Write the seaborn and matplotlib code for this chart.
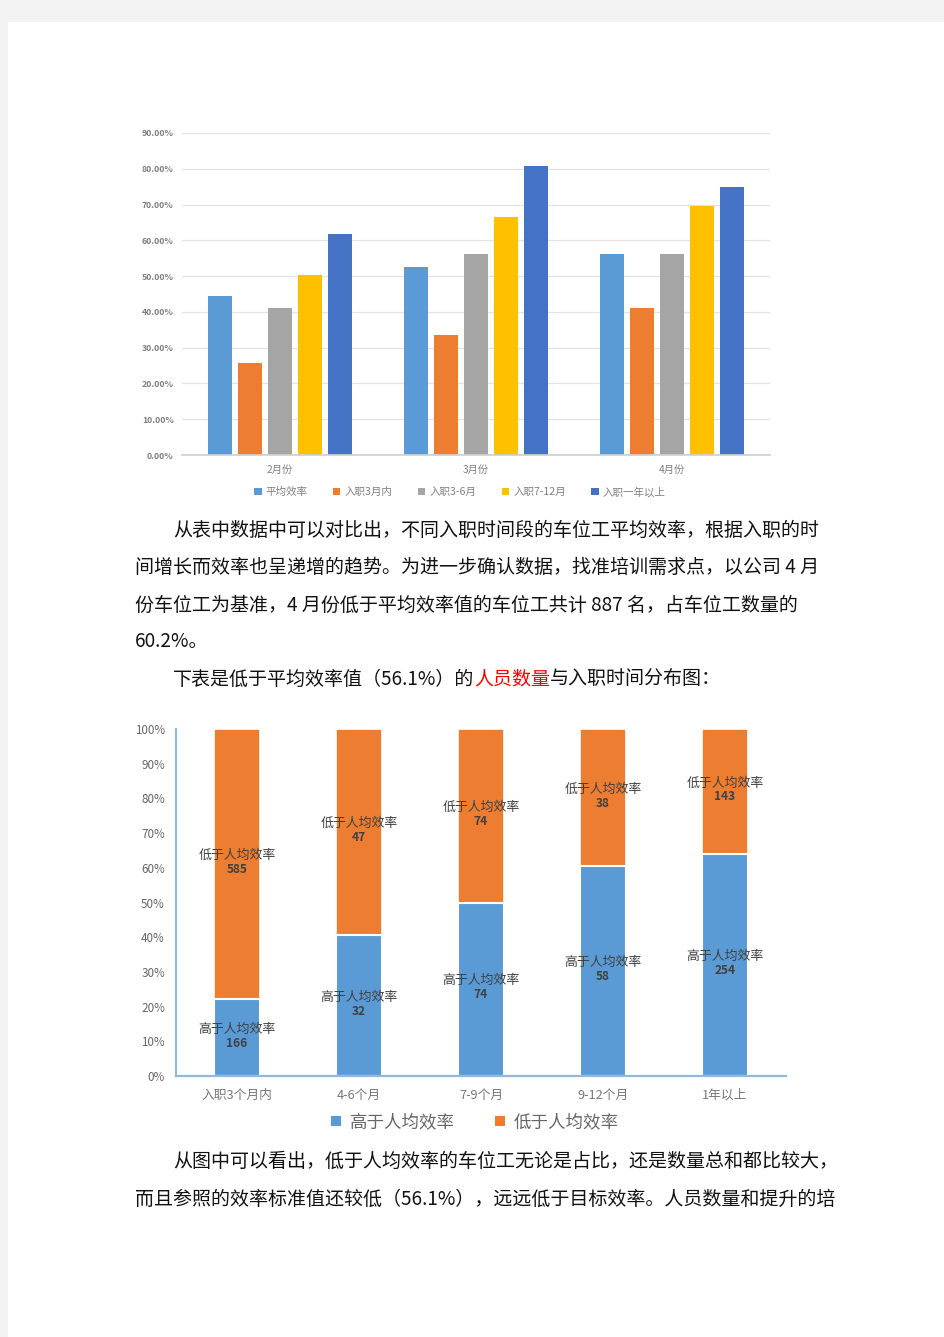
import matplotlib
matplotlib.use("Agg")
import matplotlib.pyplot as plt
import seaborn as sns
import pandas as pd
import numpy as np
from matplotlib.patches import Rectangle, Patch
from matplotlib.ticker import FuncFormatter

# ---------------- data ----------------
months = ["2月份", "3月份", "4月份"]
groups = ["平均效率", "入职3月内", "入职3-6月", "入职7-12月", "入职一年以上"]
eff_avg = [44.4, 52.5, 56.1]
eff_3m = [25.8, 33.6, 41.2]
eff_3_6 = [41.2, 56.3, 56.3]
eff_7_12 = [50.2, 66.6, 69.7]
eff_1y = [61.7, 80.8, 75.0]
top_colors = ["#5b9bd5", "#ed7d31", "#a5a5a5", "#ffc000", "#4472c4"]

tenure = ["入职3个月内", "4-6个月", "7-9个月", "9-12个月", "1年以上"]
above_cnt = [166, 32, 74, 58, 254]
below_cnt = [585, 47, 74, 38, 143]
stack_labels = ["高于人均效率", "低于人均效率"]
stack_colors = ["#5b9bd5", "#ed7d31"]

para1 = ["从表中数据中可以对比出，不同入职时间段的车位工平均效率，根据入职的时",
         "间增长而效率也呈递增的趋势。为进一步确认数据，找准培训需求点，以公司 4 月",
         "份车位工为基准，4 月份低于平均效率值的车位工共计 887 名，占车位工数量的",
         "60.2%。"]
para2 = ["下表是低于平均效率值（56.1%）的", "人员数量", "与入职时间分布图："]
para3 = ["从图中可以看出，低于人均效率的车位工无论是占比，还是数量总和都比较大，",
         "而且参照的效率标准值还较低（56.1%），远远低于目标效率。人员数量和提升的培"]

# ---------------- setup ----------------
sns.set_theme(style="white")
plt.rcParams['font.family'] = ['Noto Sans CJK SC', 'DejaVu Sans']
W, H = 945, 1337
fig = plt.figure(figsize=(W / 100, H / 100), dpi=100)
fig.patch.set_facecolor("#f3f3f3")
fig.patches.append(Rectangle((8 / W, 0), 1, 1 - 22 / H, transform=fig.transFigure,
                             facecolor="white", edgecolor="none", zorder=-10))


def ax_px(x0, y0, x1, y1):
    return fig.add_axes([x0 / W, 1 - y1 / H, (x1 - x0) / W, (y1 - y0) / H])


def fy(y):
    return 1 - y / H

# ---------------- top chart ----------------
df_top = pd.DataFrame({
    "month": np.repeat(months, len(groups)),
    "group": groups * len(months),
    "value": np.array([eff_avg, eff_3m, eff_3_6, eff_7_12, eff_1y]).T.ravel(),
})
ax1 = ax_px(182, 133, 770, 455)
ax1.patch.set_alpha(0)
sns.barplot(data=df_top, x="month", y="value", hue="group", hue_order=groups,
            palette=top_colors, width=0.765, gap=0.2, saturation=1, ax=ax1,
            edgecolor="none")
ax1.set_ylim(0, 90)
ax1.set_xlim(-0.5, 2.5)
ax1.set_yticks(np.arange(0, 91, 10))
ax1.yaxis.set_major_formatter(FuncFormatter(lambda v, p: f"{v:.2f}%"))
ax1.grid(axis="y", color="#e3e3e3", linewidth=0.9)
ax1.set_axisbelow(True)
for s in ["left", "right", "top"]:
    ax1.spines[s].set_visible(False)
ax1.spines["bottom"].set_color("#d0d0d0")
ax1.tick_params(axis="y", labelsize=6.3, colors="#808080", length=0, pad=6)
ax1.tick_params(axis="x", labelsize=7.4, colors="#808080", length=0, pad=7)
for t in ax1.get_yticklabels():
    t.set_fontweight("bold")
ax1.set_xlabel("")
ax1.set_ylabel("")
sns.move_legend(ax1, "center", bbox_to_anchor=((460 - 182) / 588, -(492 - 455) / 322),
                ncol=5, frameon=False, title=None, fontsize=7.6,
                handlelength=0.7, handleheight=0.7, columnspacing=2.4,
                handletextpad=0.4, labelcolor="#808080")

# ---------------- text ----------------
fs = 13.7
tx = 173 / W
tx0 = 135 / W
col = "#111111"
fig.text(tx, fy(530), para1[0], fontsize=fs, va="center", ha="left", color=col)
fig.text(tx0, fy(567), para1[1], fontsize=fs, va="center", ha="left", color=col)
fig.text(tx0, fy(605), para1[2], fontsize=fs, va="center", ha="left", color=col)
fig.text(tx0, fy(642), para1[3], fontsize=fs, va="center", ha="left", color=col)
fig.text(tx, fy(1161), para3[0], fontsize=fs, va="center", ha="left", color=col)
fig.text(tx0, fy(1199), para3[1], fontsize=fs, va="center", ha="left", color=col)

renderer = fig.canvas.get_renderer()
xcur = tx
for seg, c in zip(para2, [col, "#ff0000", col]):
    t = fig.text(xcur, fy(679), seg, fontsize=fs, va="center", ha="left", color=c)
    bb = t.get_window_extent(renderer=renderer)
    xcur = bb.x1 / W

# ---------------- bottom chart ----------------
above = np.array(above_cnt, dtype=float)
below = np.array(below_cnt, dtype=float)
tot = above + below
p_above = above / tot * 100
df_b = pd.DataFrame({"tenure": tenure, "above": p_above, "total": [100.0] * len(tenure)})

ax2 = ax_px(176, 729, 786, 1076)
ax2.patch.set_alpha(0)
sns.barplot(data=df_b, x="tenure", y="total", color=stack_colors[1], saturation=1,
            width=0.385, ax=ax2, edgecolor="white", linewidth=1.2)
sns.barplot(data=df_b, x="tenure", y="above", color=stack_colors[0], saturation=1,
            width=0.385, ax=ax2, edgecolor="white", linewidth=1.5)
ax2.set_ylim(0, 100)
ax2.set_xlim(-0.5, len(tenure) - 0.5)
ax2.set_yticks(np.arange(0, 101, 10))
ax2.yaxis.set_major_formatter(FuncFormatter(lambda v, p: f"{v:.0f}%"))
for s in ["right", "top"]:
    ax2.spines[s].set_visible(False)
for s in ["left", "bottom"]:
    ax2.spines[s].set_color("#8fb8e3")
    ax2.spines[s].set_linewidth(1.6)
ax2.tick_params(axis="y", labelsize=8.4, colors="#666666", length=0, pad=8)
ax2.tick_params(axis="x", labelsize=9.2, colors="#777777", length=0, pad=9)
ax2.set_xlabel("")
ax2.set_ylabel("")

for i in range(len(tenure)):
    pa = p_above[i]
    ax2.text(i, pa / 2 + 0.6, stack_labels[0], ha="center", va="bottom",
             fontsize=9.3, color="#404040")
    ax2.text(i, pa / 2 + 0.3, f"{above_cnt[i]}", ha="center", va="top",
             fontsize=8.6, color="#404040", fontweight="bold")
    mb = pa + (100 - pa) / 2
    ax2.text(i, mb + 0.6, stack_labels[1], ha="center", va="bottom",
             fontsize=9.3, color="#404040")
    ax2.text(i, mb + 0.3, f"{below_cnt[i]}", ha="center", va="top",
             fontsize=8.6, color="#404040", fontweight="bold")

handles = [Patch(facecolor=c, edgecolor="none") for c in stack_colors]
ax2.legend(handles, stack_labels, loc="center", ncol=2, frameon=False,
           bbox_to_anchor=(0.49, -(1122 - 1076) / 347), fontsize=12.6,
           handlelength=0.55, handleheight=0.55, columnspacing=2.3,
           handletextpad=0.5, labelcolor="#666666")

fig.savefig("out.png", dpi=100, facecolor=fig.get_facecolor())
